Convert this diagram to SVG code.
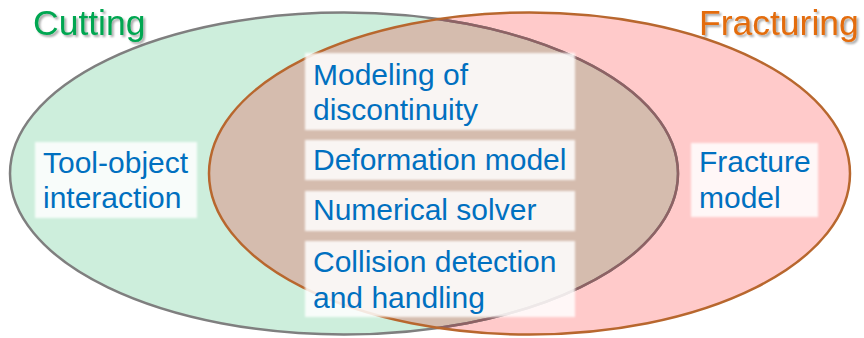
<svg xmlns="http://www.w3.org/2000/svg" width="864" height="338" viewBox="0 0 864 338">
  <defs>
    <clipPath id="clipRight">
      <ellipse cx="529.5" cy="173.5" rx="320.5" ry="161"/>
    </clipPath>
    <filter id="shadow" x="-10%" y="-20%" width="130%" height="150%">
      <feGaussianBlur in="SourceAlpha" stdDeviation="1.2"/>
      <feOffset dx="2" dy="2" result="b"/>
      <feComponentTransfer><feFuncA type="linear" slope="0.35"/></feComponentTransfer>
      <feMerge><feMergeNode/><feMergeNode in="SourceGraphic"/></feMerge>
    </filter>
    <filter id="soft" x="-5%" y="-10%" width="110%" height="120%">
      <feGaussianBlur stdDeviation="0.8"/>
    </filter>
  </defs>
  <style>
    .title { font-family: "Liberation Sans", Arial, sans-serif; font-size: 35.5px; }
    .lbl { font-family: "Liberation Sans", Arial, sans-serif; font-size: 30px; fill: #0070c0; }
    .box { fill: #ffffff; fill-opacity: 0.85; filter: url(#soft); }
  </style>

  <g id="set-cutting-fill">
    <ellipse cx="344" cy="173.5" rx="334" ry="161" fill="#cdeedc"/>
  </g>
  <g id="set-fracturing-fill">
    <ellipse cx="529.5" cy="173.5" rx="320.5" ry="161" fill="#ffcaca"/>
    <ellipse cx="344" cy="173.5" rx="334" ry="161" fill="#d5bcae" clip-path="url(#clipRight)"/>
  </g>
  <g id="set-strokes">
    <ellipse cx="344" cy="173.5" rx="334" ry="161" fill="none" stroke="#7f7f7f" stroke-width="2.5"/>
    <ellipse cx="344" cy="173.5" rx="334" ry="161" fill="none" stroke="#8e6264" stroke-width="2.5" clip-path="url(#clipRight)"/>
    <ellipse cx="529.5" cy="173.5" rx="320.5" ry="161" fill="none" stroke="#b8672e" stroke-width="2.5"/>
  </g>

  <g id="connectors"/>

  <g id="title-cutting">
    <text class="title" x="33" y="35" fill="#00a651" filter="url(#shadow)">Cutting</text>
  </g>
  <g id="title-fracturing">
    <text class="title" x="699" y="35" fill="#e36c0a" filter="url(#shadow)">Fracturing</text>
  </g>

  <g id="node-tool-object">
    <rect class="box" x="35" y="142" width="162" height="76"/>
    <text class="lbl" x="43" y="173">Tool-object</text>
    <text class="lbl" x="43" y="208">interaction</text>
  </g>
  <g id="node-modeling">
    <rect class="box" x="305" y="53" width="270" height="77"/>
    <text class="lbl" x="313" y="85">Modeling of</text>
    <text class="lbl" x="313" y="120">discontinuity</text>
  </g>
  <g id="node-deformation">
    <rect class="box" x="305" y="140" width="270" height="40"/>
    <text class="lbl" x="313" y="170">Deformation model</text>
  </g>
  <g id="node-solver">
    <rect class="box" x="305" y="191" width="270" height="40"/>
    <text class="lbl" x="313" y="220">Numerical solver</text>
  </g>
  <g id="node-collision">
    <rect class="box" x="305" y="241" width="270" height="76"/>
    <text class="lbl" x="313" y="272">Collision detection</text>
    <text class="lbl" x="313" y="308">and handling</text>
  </g>
  <g id="node-fracture">
    <rect class="box" x="691" y="143" width="127" height="74"/>
    <text class="lbl" x="699" y="172">Fracture</text>
    <text class="lbl" x="699" y="208">model</text>
  </g>
</svg>
